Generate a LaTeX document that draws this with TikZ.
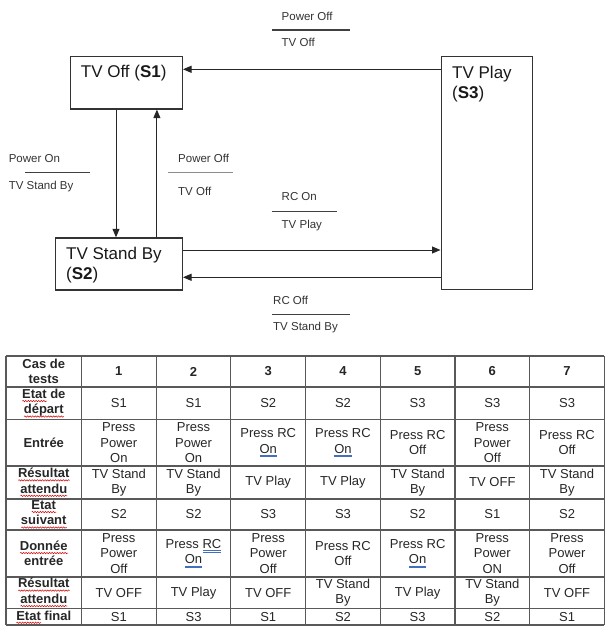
\documentclass[tikz,border=0pt]{standalone}
\usepackage{fontspec}
\setmainfont{Liberation Sans}
\usetikzlibrary{positioning,arrows.meta,decorations.pathmorphing}

\definecolor{ulblue}{RGB}{70,110,190}
\newsavebox\ulbox
% word marks as in the scanned table
\newcommand\spell[1]{\sbox\ulbox{#1}\rlap{\tikz[x=1pt,y=1pt,baseline=0pt]\draw[red!85!black,line width=0.5pt,decorate,
    decoration={snake,amplitude=0.7pt,segment length=2.6pt}] (0,-2.6) -- (\the\wd\ulbox,-2.6);}\usebox\ulbox}
\newcommand\dblul[1]{\sbox\ulbox{#1}\rlap{\color{ulblue}\rule[-2.4pt]{\wd\ulbox}{0.5pt}}\rlap{\color{ulblue}\rule[-3.9pt]{\wd\ulbox}{0.5pt}}\usebox\ulbox}

\begin{document}
\begin{tikzpicture}[x=1pt, y=-1pt, >={Triangle[length=8.5pt,width=7pt]},
    state/.style={draw=black!80, line width=1.3pt, anchor=north west, inner sep=0pt},
    boxtxt/.style={anchor=north west, inner sep=0pt, align=left, text=black!90,
                   font=\fontsize{17}{20.5}\selectfont},
    lbl/.style={anchor=base west, inner sep=0pt, text=black!80, font=\fontsize{11.5}{13}\selectfont},
    bar/.style={line width=1.2pt, black!75},
    arr/.style={->, line width=1pt, black!85},
    grid/.style={line width=1.1pt, black!65},
    cell/.style={inner sep=0pt, align=center, text=black!85, font=\fontsize{13}{15.5}\selectfont},
    head/.style={cell, font=\fontsize{13}{15.5}\selectfont\bfseries}
    ]
    \useasboundingbox (0,0) rectangle (609,635);

    % states
    \node (s1) [state, minimum width=112.2pt, minimum height=52.3pt,
        label={[boxtxt, xshift=11.2pt, yshift=-9.4pt]north west:TV Off (\textbf{S1})}] at (69.5,56) {};
    \node (s2) [state, minimum width=127.1pt, minimum height=52pt,
        label={[boxtxt, xshift=11.4pt, yshift=-9.4pt]north west:TV Stand By\\(\textbf{S2})}] at (54.6,237.3) {};
    \node (s3) [state, minimum width=91.5pt, minimum height=232.7pt,
        label={[boxtxt, xshift=11.5pt, yshift=-9.6pt]north west:TV Play\\(\textbf{S3})}] at (440.5,56) {};

    % transitions
    \draw[arr] ([yshift=-13.3pt]s3.north west) -- ([yshift=-13.3pt]s1.north east);
    \draw[arr] ([xshift=46.5pt]s1.south west) -- ([xshift=46.5pt]s1.south west |- s2.north);
    \draw[arr] ([xshift=-26.1pt]s1.south east |- s2.north) -- ([xshift=-26.1pt]s1.south east);
    \draw[arr] ([yshift=-12.7pt]s2.north east) -- ([yshift=-12.7pt]s2.north east -| s3.west);
    \draw[arr] ([yshift=13.3pt]s2.south east -| s3.west) -- ([yshift=13.3pt]s2.south east);

    % event / action labels
    \node (ev1) [lbl] at (281.5,20.1) {Power Off};
    \draw[bar] (272,30) -- (350,30);
    \node (ac1) [lbl] at (281.5,46.4) {TV Off};
    \node (ev2) [lbl] at (8.6,162.1) {Power On};
    \draw[bar] (25,172.7) -- (90.4,172.7);
    \node (ac2) [lbl] at (8.6,189.1) {TV Stand By};
    \node (ev3) [lbl] at (178,162.1) {Power Off};
    \draw[bar, black!45] (168.4,172.7) -- (233,172.7);
    \node (ac3) [lbl] at (178,195.1) {TV Off};
    \node (ev4) [lbl] at (281.5,200.8) {RC On};
    \draw[bar] (271.7,211.3) -- (337,211.3);
    \node (ac4) [lbl] at (281.5,228.1) {TV Play};
    \node (ev5) [lbl] at (273,304.8) {RC Off};
    \draw[bar] (272,314.7) -- (349.7,314.7);
    \node (ac5) [lbl] at (273,330.8) {TV Stand By};

    % table grid
    \draw[grid] (6,356) -- (6,625);
    \foreach \k in {0,...,7}
        \draw[grid] ({81.5+74.7*\k},356) -- ({81.5+74.7*\k},625);
    \foreach \yy in {356,387,419.5,466,499,530,577,608.5,625}
        \draw[grid] (6,\yy) -- (604.4,\yy);

    % header row
    \node (h0) [head] at (43.75,371.5) {Cas de\\tests};
    \foreach \n in {1,...,7}
        \node (h\n) [head] at ({81.5+74.7*(\n-0.5)},371.5) {\n};

    % row titles
    \foreach \yy/\lab [count=\r from 2] in {
        403.25/{\spell{Etat} de\\\spell{départ}},
        442.75/{Entrée},
        482.5/{\spell{Résultat}\\\spell{attendu}},
        514.5/{\spell{Etat}\\\spell{suivant}},
        553.5/{\spell{Donnée}\\entrée},
        592.75/{\spell{Résultat}\\\spell{attendu}},
        617.2/{\spell{Etat} final}}
        \node (r\r) [head] at (43.75,\yy) {\lab};

    % cells
    \foreach \yy/\row [count=\r from 2] in {
        403.25/{S1,S1,S2,S2,S3,S3,S3},
        442.75/{{Press\\Power\\On},{Press\\Power\\On},{Press RC\\\dblul{On}},{Press RC\\\dblul{On}},
                {Press RC\\Off},{Press\\Power\\Off},{Press RC\\Off}},
        482.5/{{TV Stand\\By},{TV Stand\\By},TV Play,TV Play,{TV Stand\\By},TV OFF,{TV Stand\\By}},
        514.5/{S2,S2,S3,S3,S2,S1,S2},
        553.5/{{Press\\Power\\Off},{Press \dblul{RC}\\\dblul{On}},{Press\\Power\\Off},{Press RC\\Off},
               {Press RC\\\dblul{On}},{Press\\Power\\ON},{Press\\Power\\Off}},
        592.75/{TV OFF,TV Play,TV OFF,{TV Stand\\By},TV Play,{TV Stand\\By},TV OFF},
        617.2/{S1,S3,S1,S2,S3,S2,S1}}
        \foreach \txt [count=\c] in \row
            \node (c\r-\c) [cell] at ({81.5+74.7*(\c-0.5)},\yy) {\txt};
\end{tikzpicture}
\end{document}
